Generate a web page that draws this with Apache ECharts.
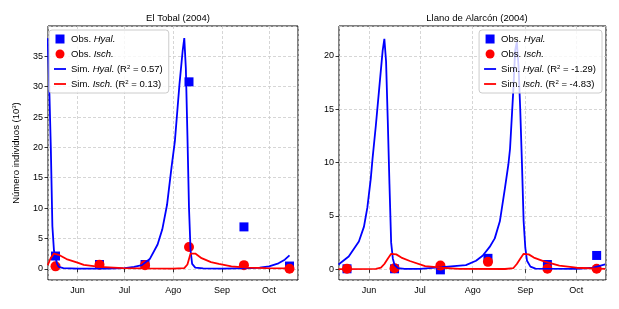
<!DOCTYPE html>
<html>
<head>
<meta charset="utf-8">
<script src="https://cdn.jsdelivr.net/npm/echarts@6/dist/echarts.min.js"></script>
<style>
  html, body { margin: 0; padding: 0; background: #fff; }
  #chart { width: 619px; height: 309px; }
</style>
</head>
<body>
<div id="chart"></div>
<script>
// month labels (Spanish)
const monthNames = ['Ene', 'Feb', 'Mar', 'Abr', 'May', 'Jun', 'Jul', 'Ago', 'Sep', 'Oct', 'Nov', 'Dic']

// El Tobal (2004)
const tobalObsDates = ['2004-05-18', '2004-06-15', '2004-07-14', '2004-08-11', '2004-09-15', '2004-10-14']
const tobalObsHyal = [2.1, 0.7, 0.7, 30.8, 6.9, 0.45]
const tobalObsIsch = [0.4, 0.65, 0.6, 3.6, 0.6, 0.0]
const tobalSimHyal = [
  ['2004-05-13', 38], ['2004-05-14', 30], ['2004-05-15', 20], ['2004-05-16', 7], ['2004-05-17', 3],
  ['2004-05-18', 1.8], ['2004-05-19', 0.8], ['2004-05-20', 0.3], ['2004-05-23', 0.1], ['2004-06-01', 0.03],
  ['2004-06-20', 0.03], ['2004-07-01', 0.12], ['2004-07-07', 0.3], ['2004-07-12', 0.6], ['2004-07-17', 1.6],
  ['2004-07-22', 4], ['2004-07-25', 6.5], ['2004-07-28', 10.5], ['2004-07-31', 17], ['2004-08-02', 21],
  ['2004-08-05', 30.6], ['2004-08-07', 36], ['2004-08-08', 38], ['2004-08-09', 33], ['2004-08-10', 22],
  ['2004-08-11', 10], ['2004-08-12', 3], ['2004-08-13', 0.8], ['2004-08-15', 0.2], ['2004-08-20', 0.05],
  ['2004-09-01', 0.02], ['2004-09-20', 0.1], ['2004-09-25', 0.2], ['2004-10-01', 0.4], ['2004-10-07', 0.9],
  ['2004-10-11', 1.5], ['2004-10-14', 2.2]
]
const tobalSimIsch = [
  ['2004-05-13', 0.6], ['2004-05-15', 1.8], ['2004-05-17', 2.5], ['2004-05-18', 2.6], ['2004-05-20', 2.3],
  ['2004-05-25', 1.6], ['2004-06-01', 1.0], ['2004-06-05', 0.65], ['2004-06-15', 0.3], ['2004-06-30', 0.12],
  ['2004-07-12', 0.05], ['2004-08-01', 0.02], ['2004-08-08', 0.1], ['2004-08-10', 0.7], ['2004-08-11', 1.6],
  ['2004-08-12', 2.5], ['2004-08-13', 2.75], ['2004-08-15', 2.5], ['2004-08-19', 1.75], ['2004-08-25', 1.1],
  ['2004-08-30', 0.8], ['2004-09-07', 0.4], ['2004-09-17', 0.2], ['2004-09-29', 0.1], ['2004-10-14', 0.05]
]

// Llano de Alarcón (2004)
const llanoObsDates = ['2004-05-19', '2004-06-16', '2004-07-13', '2004-08-10', '2004-09-14', '2004-10-13']
const llanoObsHyal = [0.05, 0.05, -0.05, 1.03, 0.45, 1.3]
const llanoObsIsch = [0.05, 0.1, 0.35, 0.7, 0.05, 0.05]
const llanoSimHyal = [
  ['2004-05-14', 0.45], ['2004-05-20', 1.2], ['2004-05-26', 2.6], ['2004-05-29', 4], ['2004-05-31', 5.8],
  ['2004-06-02', 8.5], ['2004-06-03', 10.3], ['2004-06-05', 13.5], ['2004-06-07', 17], ['2004-06-09', 20.5],
  ['2004-06-10', 21.6], ['2004-06-11', 19.5], ['2004-06-12', 14], ['2004-06-13', 8], ['2004-06-14', 2.5],
  ['2004-06-15', 1], ['2004-06-16', 0.4], ['2004-06-18', 0.12], ['2004-06-22', 0.05], ['2004-07-01', 0.05],
  ['2004-07-14', 0.2], ['2004-07-28', 0.4], ['2004-08-03', 0.8], ['2004-08-07', 1.3], ['2004-08-11', 2.1],
  ['2004-08-14', 2.9], ['2004-08-17', 4.5], ['2004-08-20', 7.6], ['2004-08-22', 9.8], ['2004-08-23', 11.3],
  ['2004-08-25', 17], ['2004-08-26', 20.5], ['2004-08-27', 21.3], ['2004-08-28', 19], ['2004-08-29', 15],
  ['2004-08-30', 10], ['2004-08-31', 4.5], ['2004-09-01', 2], ['2004-09-02', 0.8], ['2004-09-04', 0.25],
  ['2004-09-07', 0.07], ['2004-10-01', 0.05], ['2004-10-11', 0.15], ['2004-10-18', 0.47]
]
const llanoSimIsch = [
  ['2004-05-14', 0.02], ['2004-06-05', 0.05], ['2004-06-08', 0.15], ['2004-06-10', 0.5], ['2004-06-12', 1.0],
  ['2004-06-14', 1.45], ['2004-06-15', 1.55], ['2004-06-17', 1.4], ['2004-06-20', 1.1], ['2004-06-25', 0.78],
  ['2004-07-04', 0.3], ['2004-07-14', 0.15], ['2004-07-24', 0.05], ['2004-08-20', 0.03], ['2004-08-25', 0.12],
  ['2004-08-27', 0.5], ['2004-08-29', 1.0], ['2004-08-31', 1.45], ['2004-09-01', 1.55], ['2004-09-03', 1.4],
  ['2004-09-06', 1.1], ['2004-09-12', 0.75], ['2004-09-21', 0.35], ['2004-10-01', 0.15], ['2004-10-18', 0.05]
]

const names = {
  obsHyal: 'Obs. Hyal.',
  obsIsch: 'Obs. Isch.',
  tobalHyal: 'Sim. Hyal. (R2 = 0.57)',
  tobalIsch: 'Sim. Isch. (R2 = 0.13)',
  llanoHyal: 'Sim. Hyal. (R2 = -1.29)',
  llanoIsch: 'Sim. Isch. (R2 = -4.83)'
}
const richNames = {
  [names.obsHyal]: 'Obs. {i|Hyal.}',
  [names.obsIsch]: 'Obs. {i|Isch.}',
  [names.tobalHyal]: 'Sim. {i|Hyal.} (R{s|2} = 0.57)',
  [names.tobalIsch]: 'Sim. {i|Isch.} (R{s|2} = 0.13)',
  [names.llanoHyal]: 'Sim. {i|Hyal.} (R{s|2} = -1.29)',
  [names.llanoIsch]: 'Sim. {i|Isch.} (R{s|2} = -4.83)'
}

const font = 'Liberation Sans'
const blue = '#0000ff'
const red = '#ff0000'
const lineIcon = 'path://M0,0 H12 V1.8 H0 Z'
const squareIcon = 'path://M0,0 H10 V10 H0 Z'

const chart = echarts.init(document.getElementById('chart'))

const xAxisBase = {
  type: 'time',
  minInterval: 28 * 86400000,
  axisLine: { show: false },
  axisTick: { show: true, length: 3.5, lineStyle: { color: '#000', width: 0.8 } },
  axisLabel: {
    color: '#000', fontSize: 9, fontFamily: font, margin: 6,
    formatter: v => monthNames[new Date(v).getMonth()]
  },
  splitLine: { show: true, lineStyle: { color: '#cccccc', type: [3, 2], width: 0.8 } }
}
const yAxisBase = {
  type: 'value',
  axisLine: { show: false },
  axisTick: { show: true, length: 3.5, lineStyle: { color: '#000', width: 0.8 } },
  axisLabel: { color: '#000', fontSize: 9, fontFamily: font, margin: 5, showMinLabel: false, showMaxLabel: false },
  splitLine: { show: true, lineStyle: { color: '#cccccc', type: [3, 2], width: 0.8 } }
}

const legendBase = {
  orient: 'vertical',
  top: 30,
  z: 10,
  itemWidth: 12,
  itemHeight: 9,
  itemGap: 5,
  padding: [4, 6, 4, 5],
  backgroundColor: 'rgba(255,255,255,0.8)',
  borderColor: '#cccccc',
  borderWidth: 1,
  borderRadius: 3,
  selectedMode: false,
  formatter: n => richNames[n],
  textStyle: {
    fontFamily: font, fontSize: 9.5, color: '#000',
    rich: {
      i: { fontFamily: font, fontSize: 9.5, fontStyle: 'italic', color: '#000' },
      s: { fontFamily: font, fontSize: 6, verticalAlign: 'top', color: '#000' }
    }
  }
}

function panelSeries(idx, obsDates, obsHyal, obsIsch, simHyal, simIsch, hyalName, ischName) {
  return [
    {
      name: names.obsHyal, type: 'scatter', xAxisIndex: idx, yAxisIndex: idx,
      symbol: 'rect', symbolSize: 9, itemStyle: { color: blue, opacity: 1 },
      data: obsDates.map((d, k) => [d, obsHyal[k]])
    },
    {
      name: names.obsIsch, type: 'scatter', xAxisIndex: idx, yAxisIndex: idx,
      symbol: 'circle', symbolSize: 10, itemStyle: { color: red, opacity: 1 },
      data: obsDates.map((d, k) => [d, obsIsch[k]])
    },
    {
      name: hyalName, type: 'line', xAxisIndex: idx, yAxisIndex: idx, z: 3,
      showSymbol: false, symbol: 'none',
      lineStyle: { color: blue, width: 1.8 }, itemStyle: { color: blue },
      data: simHyal
    },
    {
      name: ischName, type: 'line', xAxisIndex: idx, yAxisIndex: idx, z: 3,
      showSymbol: false, symbol: 'none',
      lineStyle: { color: red, width: 1.8 }, itemStyle: { color: red },
      data: simIsch
    }
  ]
}

const option = {
  animation: false,
  backgroundColor: '#fff',
  title: [
    { text: 'El Tobal (2004)', left: 173, top: 8, textAlign: 'center',
      textStyle: { fontFamily: font, fontSize: 9.5, fontWeight: 'normal', color: '#000' } },
    { text: 'Llano de Alarcón (2004)', left: 472, top: 8, textAlign: 'center',
      textStyle: { fontFamily: font, fontSize: 9.5, fontWeight: 'normal', color: '#000' } }
  ],
  grid: [
    { left: 48, top: 26, width: 250, height: 254, show: true, borderColor: '#000', borderWidth: 1, backgroundColor: 'transparent' },
    { left: 339, top: 26, width: 267, height: 254, show: true, borderColor: '#000', borderWidth: 1, backgroundColor: 'transparent' }
  ],
  legend: [
    Object.assign({}, legendBase, {
      left: 49,
      data: [
        { name: names.obsHyal, icon: squareIcon },
        { name: names.obsIsch, icon: 'circle' },
        { name: names.tobalHyal, icon: lineIcon },
        { name: names.tobalIsch, icon: lineIcon }
      ]
    }),
    Object.assign({}, legendBase, {
      right: 17,
      data: [
        { name: names.obsHyal, icon: squareIcon },
        { name: names.obsIsch, icon: 'circle' },
        { name: names.llanoHyal, icon: lineIcon },
        { name: names.llanoIsch, icon: lineIcon }
      ]
    })
  ],
  xAxis: [
    Object.assign({}, xAxisBase, { gridIndex: 0, min: '2004-05-13 05:00', max: '2004-10-19 10:00' }),
    Object.assign({}, xAxisBase, { gridIndex: 1, min: '2004-05-14 07:00', max: '2004-10-18 12:00' })
  ],
  yAxis: [
    Object.assign({}, yAxisBase, {
      gridIndex: 0, min: -1.85, max: 40, splitNumber: 8,
      name: 'Número individuos (10{s|3})', nameLocation: 'middle', nameGap: 27, nameRotate: 90,
      nameTextStyle: {
        fontFamily: font, fontSize: 9.5, color: '#000',
        rich: { s: { fontFamily: font, fontSize: 6, verticalAlign: 'top', color: '#000' } }
      }
    }),
    Object.assign({}, yAxisBase, { gridIndex: 1, min: -1.0, max: 22.8, splitNumber: 5 })
  ],
  series: [].concat(
    panelSeries(0, tobalObsDates, tobalObsHyal, tobalObsIsch, tobalSimHyal, tobalSimIsch, names.tobalHyal, names.tobalIsch),
    panelSeries(1, llanoObsDates, llanoObsHyal, llanoObsIsch, llanoSimHyal, llanoSimIsch, names.llanoHyal, names.llanoIsch)
  )
}

chart.setOption(option)
</script>
</body>
</html>
